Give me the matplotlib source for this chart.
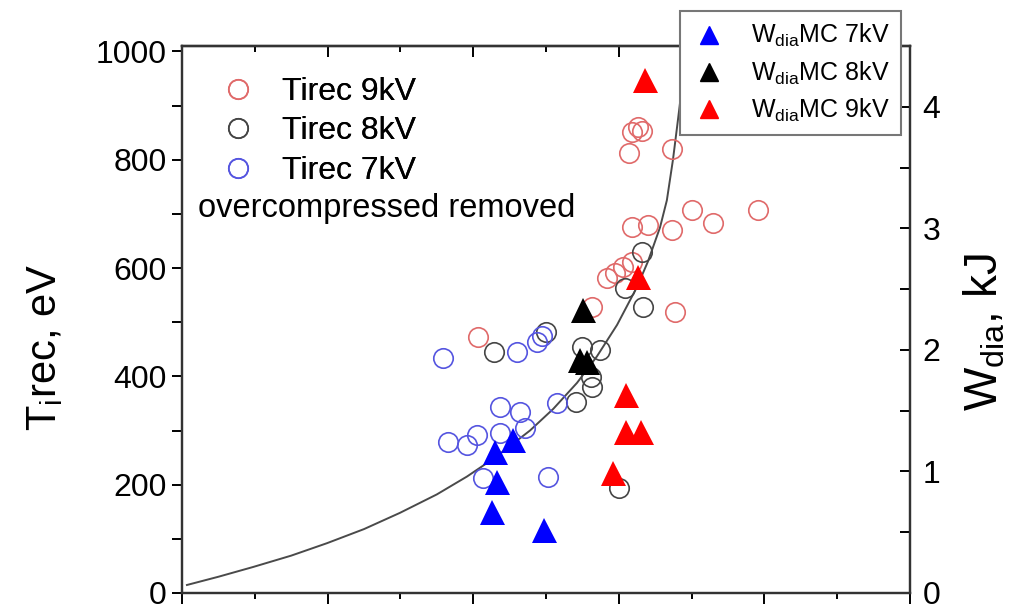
import matplotlib

matplotlib.use("Agg")

from matplotlib import pyplot as plt
from matplotlib.lines import Line2D
from matplotlib.ticker import MultipleLocator, NullFormatter

plt.rcParams["font.family"] = ["Liberation Sans", "DejaVu Sans"]
plt.rcParams["mathtext.default"] = "regular"

# Ti rec (left axis, eV), open circles
ti9_x = [3.091, 3.132, 3.159, 3.070, 3.365, 3.091, 3.201, 3.365, 3.503, 3.647, 3.956,
         2.919, 2.974, 3.029, 3.091, 3.386, 2.816, 2.033]
ti9_y = [851, 860, 853, 812, 820, 676, 679, 670, 707, 683, 707,
         582, 591, 602, 611, 519, 528, 473]

ti8_x = [3.159, 3.043, 3.166, 2.143, 2.500, 2.747, 2.871, 2.809, 2.816, 2.706, 3.001]
ti8_y = [630, 563, 528, 445, 482, 454, 449, 399, 380, 353, 194]

ti7_x = [1.793, 2.301, 2.438, 2.473, 2.576, 2.184, 2.321, 1.827, 1.957, 2.026,
         2.184, 2.356, 2.067, 2.514]
ti7_y = [434, 445, 463, 475, 351, 343, 334, 279, 273, 292,
         295, 305, 212, 214]

# W_dia from MC (right axis, kJ), filled triangles
w7_x = [2.150, 2.273, 2.163, 2.129, 2.486]
w7_y = [1.16, 1.26, 0.914, 0.667, 0.52]

w8_x = [2.754, 2.734, 2.782]
w8_y = [2.33, 1.92, 1.90]

w9_x = [3.180, 3.132, 3.049, 3.049, 3.152, 2.960]
w9_y = [4.22, 2.60, 1.63, 1.325, 1.325, 0.99]

# fitted curve
fit_x = [0.034, 0.25, 0.488, 0.75, 0.996, 1.25, 1.497, 1.75, 1.957, 2.15, 2.39,
         2.55, 2.713, 2.85, 2.988, 3.125, 3.20, 3.283, 3.33, 3.372, 3.40, 3.441, 3.475]
fit_y = [14.8, 30, 48, 69, 92, 118, 148, 182, 215, 250, 300,
         340, 388, 437, 495, 565, 612, 675, 725, 800, 860, 950, 1010]

fig = plt.figure(figsize=(10.28, 6.04), dpi=100)
ax = fig.add_axes([182 / 1028, 11 / 604, 728 / 1028, 547 / 604])
ax2 = ax.twinx()

ax.plot(fit_x, fit_y, color="#4a4a4a", linewidth=1.4, zorder=2)

circle_kw = dict(linestyle="none", marker="o", markersize=14, markerfacecolor="none",
                 markeredgewidth=1.2, zorder=3)
ax.plot(ti9_x, ti9_y, markeredgecolor="#e06a6a", **circle_kw)
ax.plot(ti8_x, ti8_y, markeredgecolor="#454545", **circle_kw)
ax.plot(ti7_x, ti7_y, markeredgecolor="#5555e0", **circle_kw)

tri_kw = dict(linestyle="none", marker="^", markersize=18, markeredgewidth=0, zorder=4)
ax2.plot(w7_x, w7_y, color="#0000ff", **tri_kw)
ax2.plot(w8_x, w8_y, color="#000000", **tri_kw)
ax2.plot(w9_x, w9_y, color="#ff0000", **tri_kw)

ax.set_xlim(0, 5)
ax.set_ylim(0, 1010)
ax2.set_ylim(0, 4.5)

ax.xaxis.set_major_locator(MultipleLocator(1))
ax.xaxis.set_minor_locator(MultipleLocator(0.5))
ax.xaxis.set_major_formatter(NullFormatter())
ax.yaxis.set_major_locator(MultipleLocator(200))
ax.yaxis.set_minor_locator(MultipleLocator(100))
ax2.yaxis.set_major_locator(MultipleLocator(1))
ax2.yaxis.set_minor_locator(MultipleLocator(0.5))

ax.tick_params(axis="x", which="major", direction="out", length=8, width=1.4)
ax.tick_params(axis="x", which="minor", direction="out", length=4, width=1.4)
ax.tick_params(axis="y", which="both", direction="out", length=7, width=1.4,
               labelsize=23, pad=4)
ax2.tick_params(axis="y", which="both", direction="in", length=7, width=1.4,
                labelsize=23, pad=9)

top = ax.secondary_xaxis("top")
top.xaxis.set_major_locator(MultipleLocator(1))
top.xaxis.set_minor_locator(MultipleLocator(0.5))
top.xaxis.set_major_formatter(NullFormatter())
top.tick_params(which="major", direction="in", length=8, width=1.4)
top.tick_params(which="minor", direction="in", length=4, width=1.4)

for a in (ax, ax2):
    for spine in a.spines.values():
        spine.set_linewidth(1.6)
        spine.set_color("#333333")
top.spines["top"].set_linewidth(1.6)

fig.text(45 / 1028, 1 - 347 / 604, r"T$_{i}$rec, eV", rotation=90,
         ha="center", va="center", fontsize=30)
fig.text(985 / 1028, 1 - 332 / 604, r"W$_{dia}$, kJ", rotation=90,
         ha="center", va="center", fontsize=33)

ti_handles = [
    Line2D([], [], marker="o", linestyle="none", markersize=14, markerfacecolor="none",
           markeredgewidth=1.2, markeredgecolor=c)
    for c in ("#e06a6a", "#454545", "#5555e0")
]
leg1 = ax.legend(ti_handles, ["Tirec 9kV", "Tirec 8kV", "Tirec 7kV"],
                 loc="upper left", bbox_to_anchor=(27 / 728, 1 - 18 / 547),
                 frameon=False, fontsize=23, handletextpad=0.9, labelspacing=0.3,
                 borderaxespad=0, handlelength=1.0)
ax.add_artist(leg1)
ax.text(16 / 728, 1 - 162 / 547, "overcompressed removed", transform=ax.transAxes,
        fontsize=23.5, va="center", ha="left")

w_handles = [
    Line2D([], [], marker="^", linestyle="none", markersize=13, color=c)
    for c in ("#0000ff", "#000000", "#ff0000")
]
leg2 = fig.legend(w_handles, [r"W$_{dia}$MC 7kV", r"W$_{dia}$MC 8kV", r"W$_{dia}$MC 9kV"],
                  loc="upper left", bbox_to_anchor=(680 / 1028, 1 - 11 / 604),
                  borderaxespad=0, fontsize=18, frameon=True, fancybox=False,
                  framealpha=1, edgecolor="#777777", handletextpad=1.0,
                  labelspacing=0.4, borderpad=0.45, handlelength=1.4)
leg2.get_frame().set_linewidth(1.5)
leg2.set_zorder(10)

fig.savefig("out.png", dpi=100)
